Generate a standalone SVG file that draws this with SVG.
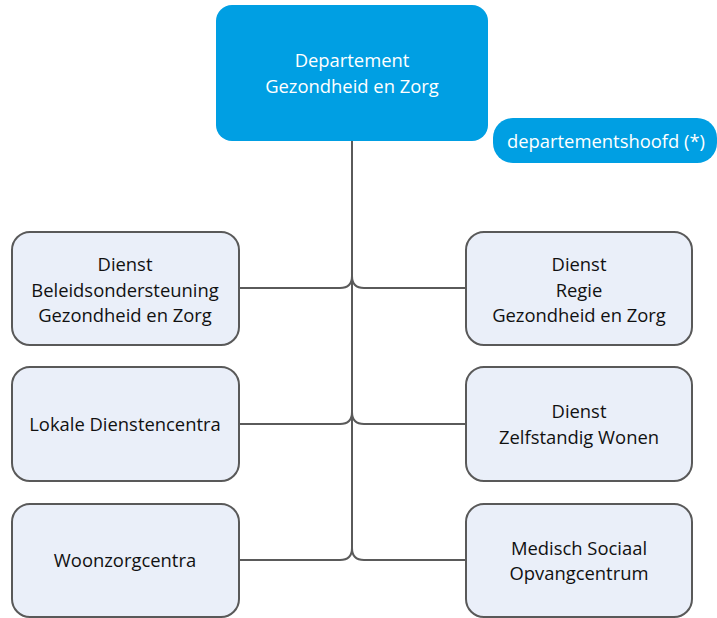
<svg xmlns="http://www.w3.org/2000/svg" width="717" height="618" viewBox="0 0 717 618">
<style>
.box{fill:#eaeff9;stroke:#595959;stroke-width:2}
.top{fill:#009fe3}
.t{font-family:"Open Sans","Liberation Sans",sans-serif;font-size:18.4px;fill:#111;text-anchor:middle}
.w{fill:#ffffff}
.c{fill:none;stroke:#5a5a5a;stroke-width:2}
</style>
<rect width="717" height="618" fill="#ffffff"/>
<g id="connectors">
<path class="c" d="M352 141 V548"/>
<path class="c" d="M239 288 H340 Q352 288 352 276"/>
<path class="c" d="M466 288 H364 Q352 288 352 276"/>
<path class="c" d="M239 424 H340 Q352 424 352 412"/>
<path class="c" d="M466 424 H364 Q352 424 352 412"/>
<path class="c" d="M239 560 H340 Q352 560 352 548"/>
<path class="c" d="M466 560 H364 Q352 560 352 548"/>
</g>
<g id="node-top">
<rect class="top" x="216" y="5" width="272" height="136" rx="16"/>
<text class="t w" x="352" y="67">Departement</text>
<text class="t w" x="352" y="93">Gezondheid en Zorg</text>
</g>
<g id="node-head">
<rect class="top" x="493" y="118" width="224" height="45" rx="20"/>
<text class="t w" x="606" y="148">departementshoofd (*)</text>
</g>
<g id="node-beleid">
<rect class="box" x="12" y="232" width="227" height="113" rx="18"/>
<text class="t" x="125" y="271">Dienst</text>
<text class="t" x="125" y="297">Beleidsondersteuning</text>
<text class="t" x="125" y="322">Gezondheid en Zorg</text>
</g>
<g id="node-lokale">
<rect class="box" x="12" y="367" width="227" height="114" rx="18"/>
<text class="t" x="125" y="431">Lokale Dienstencentra</text>
</g>
<g id="node-woonzorg">
<rect class="box" x="12" y="504" width="227" height="113" rx="18"/>
<text class="t" x="125" y="567">Woonzorgcentra</text>
</g>
<g id="node-regie">
<rect class="box" x="466" y="232" width="226" height="113" rx="18"/>
<text class="t" x="579" y="271">Dienst</text>
<text class="t" x="579" y="297">Regie</text>
<text class="t" x="579" y="322">Gezondheid en Zorg</text>
</g>
<g id="node-zelfstandig">
<rect class="box" x="466" y="367" width="226" height="114" rx="18"/>
<text class="t" x="579" y="418">Dienst</text>
<text class="t" x="579" y="444">Zelfstandig Wonen</text>
</g>
<g id="node-medisch">
<rect class="box" x="466" y="504" width="226" height="113" rx="18"/>
<text class="t" x="579" y="555">Medisch Sociaal</text>
<text class="t" x="579" y="580">Opvangcentrum</text>
</g>
</svg>
